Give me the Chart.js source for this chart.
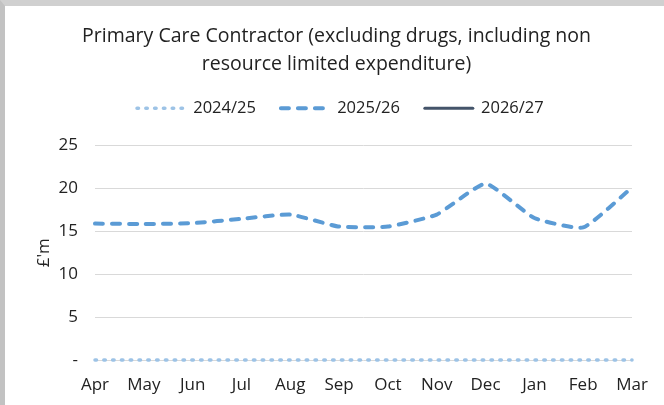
<!doctype html>
<html lang="en">
<head>
<meta charset="utf-8">
<title>Primary Care Contractor</title>
<style>
  body { margin: 0; background: #fff; }
  #frame {
    position: absolute; left: 0; top: 0;
    width: 664px; height: 405px; box-sizing: border-box;
    border-top: 6px solid #d0d0d0; border-left: 5px solid #c2c2c2;
    background: #fff;
  }
  canvas { display: block; }
</style>
</head>
<body>
<div id="frame"><canvas id="myChart" width="659" height="399"></canvas></div>

<script src="https://cdn.jsdelivr.net/npm/chart.js@4"></script>
<script>
// chart values
var months = ['Apr', 'May', 'Jun', 'Jul', 'Aug', 'Sep', 'Oct', 'Nov', 'Dec', 'Jan', 'Feb', 'Mar']
var fy2425 = [0, 0, 0, 0, 0, 0, 0, 0, 0, 0, 0, 0]
var fy2526 = [15.9, 15.85, 15.95, 16.45, 16.95, 15.55, 15.55, 16.95, 20.55, 16.55, 15.45, 20.1]
var fy2627 = [null, null, null, null, null, null, null, null, null, null, null, null]
var yTicks = [0, 5, 10, 15, 20, 25]

var textColor = '#222222'
Chart.defaults.font.family = '"Open Sans", Lato, sans-serif'
Chart.defaults.color = textColor

// puts the title and legend row where they sit in the original
var blockShift = {
    id: 'blockShift',
    afterLayout: function(chart) {
        var lg = chart.legend
        if (lg) {
            lg.left += 107
            lg.right += 107
            lg.top -= 3
            lg.bottom -= 3
        }
        var tb = chart.titleBlock
        if (tb) {
            tb.left += 18
            tb.right += 18
        }
    }
}

var ctx = document.getElementById('myChart').getContext('2d')

var chart = new Chart(ctx, {
    type: 'line',
    data: {
        labels: months,
        datasets: [
            {
                label: '2024/25',
                data: fy2425,
                borderColor: '#9dc3e6',
                backgroundColor: '#9dc3e6',
                borderWidth: 3.5,
                borderDash: [1.5, 7.3],
                borderCapStyle: 'round',
                pointRadius: 0,
                clip: false,
                fill: false
            },
            {
                label: '2025/26',
                data: fy2526,
                borderColor: '#5b9bd5',
                backgroundColor: '#5b9bd5',
                borderWidth: 4,
                borderDash: [8, 9],
                borderCapStyle: 'round',
                tension: 0.15,
                pointRadius: 0,
                fill: false
            },
            {
                label: '2026/27',
                data: fy2627,
                borderColor: '#44546a',
                backgroundColor: '#44546a',
                borderWidth: 3,
                borderCapStyle: 'round',
                pointRadius: 0,
                fill: false
            }
        ]
    },
    options: {
        responsive: false,
        animation: false,
        layout: { padding: { top: 0, left: 0, right: 32, bottom: 9 } },
        plugins: {
            title: {
                display: true,
                text: ['Primary Care Contractor (excluding drugs, including non', 'resource limited expenditure)'],
                color: textColor,
                font: { size: 19.5, weight: 'normal', lineHeight: 1.436 },
                padding: { top: 16, bottom: 0 }
            },
            subtitle: {
                // spacer between legend and plot
                display: true,
                text: '',
                weight: 500,
                font: { size: 10, lineHeight: 1.6 },
                padding: 0
            },
            legend: {
                display: true,
                align: 'start',
                labels: {
                    usePointStyle: true,
                    pointStyleWidth: 48,
                    padding: 25,
                    color: textColor,
                    font: { size: 16.5 },
                    generateLabels: function(ch) {
                        return ch.data.datasets.map(function(ds, i) {
                            return {
                                text: ds.label,
                                strokeStyle: ds.borderColor,
                                fillStyle: ds.borderColor,
                                lineWidth: ds.borderWidth,
                                lineDash: ds.borderDash || [],
                                lineCap: ds.borderCapStyle,
                                pointStyle: 'line',
                                fontColor: textColor,
                                hidden: false,
                                datasetIndex: i
                            }
                        })
                    }
                }
            },
            tooltip: { enabled: false }
        },
        scales: {
            x: {
                offset: false,
                afterFit: function(scale) { scale.height = 36 },
                grid: { display: false, drawTicks: false },
                border: { display: false },
                ticks: { autoSkip: false, maxRotation: 0, padding: 15, font: { size: 17 } }
            },
            y: {
                min: 0,
                max: 25,
                afterFit: function(scale) { scale.width = 90 },
                afterBuildTicks: function(scale) {
                    scale.ticks = yTicks.map(function(v) { return { value: v } })
                },
                grid: { color: '#d9d9d9', lineWidth: 1, drawTicks: false },
                border: { display: false },
                ticks: {
                    padding: 17,
                    font: { size: 17 },
                    callback: function(v) { return v === 0 ? '-' : v }
                },
                title: {
                    display: true,
                    text: "£'m",
                    font: { size: 17 },
                    padding: { top: 29, bottom: 0 }
                }
            }
        }
    },
    plugins: [blockShift]
})
</script>
</body>
</html>
